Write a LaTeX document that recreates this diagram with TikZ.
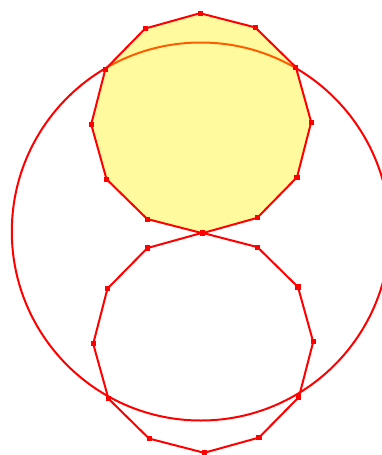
\documentclass[tikz,border=0pt]{standalone}
\usetikzlibrary{calc}
\begin{document}
\begin{tikzpicture}[x=0.75pt,y=-0.75pt,
  edge/.style={draw=red,line width=1.5pt,line join=round},
  vtx/.style={fill=red,minimum size=3.8pt,inner sep=0pt,draw=none,rectangle}]
\useasboundingbox (0,0) rectangle (382,455);
\clip (0,0) rectangle (382,455);
\coordinate (O) at (200.8,231.5);
\coordinate (C1) at (201.2,123.2);
\coordinate (C2) at (203.2,342.8);
% big circle
\draw[red,line width=1.5pt] (O) circle[radius=189];
% top polygon (filled)
\filldraw[edge,fill=yellow,fill opacity=0.38,draw opacity=1]
  ($(C1)+(89.4:110)$) \foreach \k in {1,...,11}{ -- ($(C1)+(89.4+30*\k:110)$)} -- cycle;
% bottom polygon
\draw[edge]
  ($(C2)+(89.5:110)$) \foreach \k in {1,...,11}{ -- ($(C2)+(89.5+30*\k:110)$)} -- cycle;
% vertices
\foreach \k in {0,...,11}{
  \node[vtx] (a\k) at ($(C1)+(89.4+30*\k:110)$) {};
  \node[vtx] (b\k) at ($(C2)+(89.5+30*\k:110)$) {};
}
\end{tikzpicture}
\end{document}
